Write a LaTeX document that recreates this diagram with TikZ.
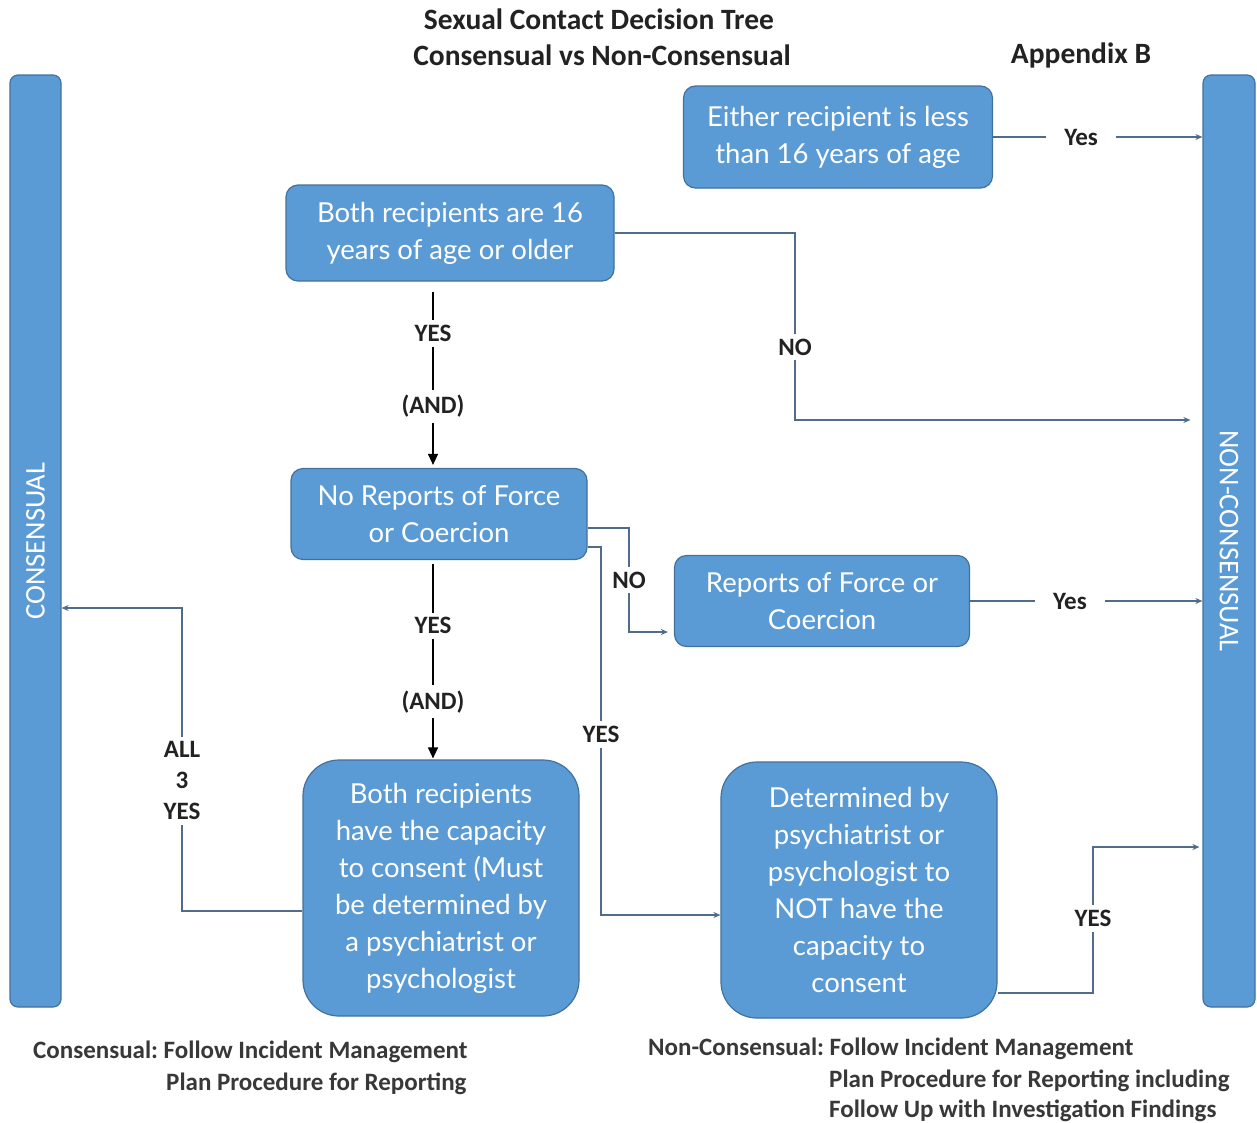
\documentclass[tikz,border=0pt]{standalone}
\usepackage{fontspec}
\setmainfont{Carlito}
\newfontfamily\boxfont{Lato}
\usetikzlibrary{arrows.meta}
\frenchspacing
\definecolor{boxblue}{HTML}{5B9BD5}
\definecolor{boxedge}{HTML}{41719C}
\definecolor{connc}{HTML}{4F6D8A}
\definecolor{txtc}{HTML}{222222}
\tikzset{
  box/.style={draw=boxedge, line width=1.2pt, fill=boxblue, rounded corners=12pt,
    text=white, align=center, font=\boxfont\fontsize{27.5}{37}\selectfont, inner sep=0pt},
  bigbox/.style={box, rounded corners=36pt},
  bar/.style={draw=boxedge, line width=1.2pt, fill=boxblue, rounded corners=8pt,
    text=white, inner sep=0pt},
  bartxt/.style={text=white, font=\fontsize{28.5}{32}\selectfont, inner sep=0pt},
  conn/.style={draw=connc, line width=1.3pt, -{Stealth[length=7pt,width=6pt]}},
  blk/.style={draw=black, line width=1.3pt, -{Triangle[length=11pt,width=10pt]}},
  lbl/.style={fill=white, text=txtc, font=\bfseries\fontsize{25}{31}\selectfont,
    inner xsep=18pt, inner ysep=5pt, align=center},
  title/.style={text=txtc, font=\bfseries\fontsize{29.5}{32}\selectfont, inner sep=0pt},
  note/.style={text=txtc!90!white, font=\bfseries\fontsize{25}{28}\selectfont, inner sep=0pt, anchor=west},
}
\begin{document}
\begin{tikzpicture}[x=1pt,y=-1pt]
\useasboundingbox[fill=white] (0,0) rectangle (1257,1122);

% titles
\node[title] (t1) at (599,19) {Sexual Contact Decision Tree};
\node[title] (t2) at (602,55) {Consensual vs Non-Consensual};
\node[title] (t3) at (1081,55) {Appendix B};

% side bars
\node[bar, minimum width=51pt, minimum height=932pt] (L) at (35.5,541) {};
\node[bartxt, rotate=90] (Ltxt) at (L.center) {CONSENSUAL};
\node[bar, minimum width=52pt, minimum height=932pt] (R) at (1229,541) {};
\node[bartxt, rotate=-90] (Rtxt) at (R.center) {NON-CONSENSUAL};

% boxes
\node[box, minimum width=309pt, minimum height=102pt] (A) at (838,137)
  {Either recipient is less\\than 16 years of age};
\node[box, minimum width=328pt, minimum height=96pt] (B) at (450,233)
  {Both recipients are 16\\years of age or older};
\node[box, minimum width=296pt, minimum height=91pt] (C) at (439,514)
  {No Reports of Force\\or Coercion};
\node[box, minimum width=295pt, minimum height=91pt] (D) at (822,601)
  {Reports of Force or\\Coercion};
\node[bigbox, minimum width=276pt, minimum height=256pt] (E) at (441,888)
  {Both recipients\\have the capacity\\to consent (Must\\be determined by\\a psychiatrist or\\psychologist};
\node[bigbox, minimum width=276pt, minimum height=256pt] (F) at (859,890)
  {Determined by\\psychiatrist or\\psychologist to\\NOT have the\\capacity to\\consent};

% connectors
\draw[conn] (A.east) -- node[lbl, pos=0.42] {Yes} (A.east -| R.west);
\draw[conn, shorten >=12pt] (B.east) -- (795,233) -- node[lbl, pos=0.61, inner xsep=4pt] {NO} (795,420) -- (R.west |- 0,420);
\draw[blk, shorten <=10pt, shorten >=3pt] (B.south -| 433,0) -- node[lbl, pos=0.28, inner xsep=3pt] {YES} node[lbl, pos=0.67, inner xsep=3pt] {(AND)} (C.north -| 433,0);
\draw[conn, shorten >=6pt] (C.east |- 0,528) -- (629,528) -- node[lbl, pos=0.5, inner xsep=4pt] {NO} (629,632) -- (D.west |- 0,632);
\draw[conn] (C.east |- 0,547) -- (601,547) -- node[lbl, pos=0.51, inner xsep=4pt] {YES} (601,915) -- (F.west |- 0,915);
\draw[blk, shorten <=4pt, shorten >=1pt] (C.south -| 433,0) -- node[lbl, pos=0.33, inner xsep=3pt] {YES} node[lbl, pos=0.71, inner xsep=3pt] {(AND)} (E.north -| 433,0);
\draw[conn] (E.west |- 0,911) -- (182,911) -- node[lbl, pos=0.43, inner xsep=4pt] {ALL\\3\\YES} (182,608) -- (L.east |- 0,608);
\draw[conn] (D.east) -- node[lbl, pos=0.43] {Yes} (D.east -| R.west);
\draw[conn, shorten >=3pt] (F.east |- 0,993) -- (1093,993) -- node[lbl, pos=0.51, inner xsep=4pt] {YES} (1093,847) -- (R.west |- 0,847);

% notes
\node[note] (n1) at (33,1052) {Consensual: Follow Incident Management};
\node[note] (n2) at (166,1084) {Plan Procedure for Reporting};
\node[note] (n3) at (648,1049) {Non-Consensual: Follow Incident Management};
\node[note] (n4) at (829,1081) {Plan Procedure for Reporting including};
\node[note] (n5) at (829,1111) {Follow Up with Investigation Findings};
\end{tikzpicture}
\end{document}
